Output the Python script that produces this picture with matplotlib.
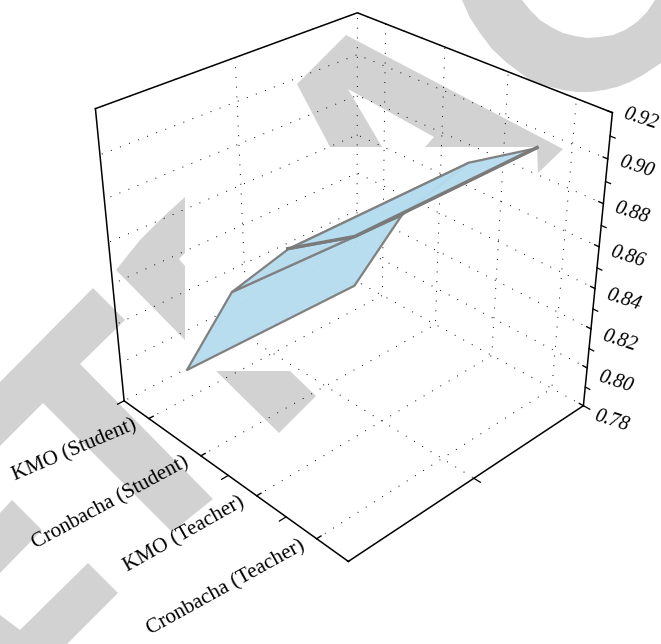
import numpy as np
import matplotlib
matplotlib.use('Agg')
import matplotlib.pyplot as plt
from matplotlib.patches import Polygon
from matplotlib.ticker import FixedLocator
from mpl_toolkits.mplot3d import proj3d

plt.rcParams['font.family'] = ['Liberation Serif', 'DejaVu Serif']

# the values
categories = ['KMO (Student)', 'Cronbacha (Student)', 'KMO (Teacher)', 'Cronbacha (Teacher)']
category_pos = [1, 2, 3, 4]
surface_x = [1, 4]
series_y_left = [0.153, 0.343, 0.576, 0.868]
series_y_right = [0.141, 0.308, 0.558, 0.841]
series_z_left = [0.795, 0.823, 0.831, 0.8205]
series_z_right = [0.8865, 0.906, 0.9145, 0.9065]
z_ticks = [0.78, 0.80, 0.82, 0.84, 0.86, 0.88, 0.90, 0.92]
z_minor = [0.79, 0.81, 0.83, 0.85, 0.87, 0.89, 0.91]
x_minor = [0.5, 2.5, 3.5, 4.5]
y_ticks = [0.0, 0.5, 1.0]
x_label_rot = [23, 28.5, 29.5, 29]

# retraction stamp behind the chart, in picture pixels
stamp_pieces = [
    [(346, 35), (563, 149), (538, 173), (537, 147), (425, 147), (434, 137),
     (348, 89), (382, 147), (330, 147), (297, 84)],
    [(185, 197), (163, 217), (140, 240), (116, 270), (185, 340), (185, 266),
     (179, 259), (185, 253)],
    [(93, 288), (125, 320), (80, 364), (213, 499), (172, 532), (43, 403),
     (0, 446), (0, 382)],
    [(12, 500), (42, 530), (0, 573), (0, 513)],
    [(88, 563), (118, 593), (67, 644), (0, 644), (0, 615), (20, 630)],
    [(216, 371), (290, 371), (316, 396), (279, 433)],
    [(462, 0), (470, 18), (480, 33), (492, 49), (507, 63), (530, 80), (547, 86), (563, 90),
     (577, 92), (590, 92), (604, 90), (617, 87), (630, 82), (643, 75), (661, 63), (661, 0),
     (655, 0), (647, 12), (637, 22), (625, 30), (613, 35), (600, 37), (587, 38),
     (575, 36), (563, 33), (551, 27), (540, 20), (530, 10), (522, 0)],
]

W, H = 661, 644
fig = plt.figure(figsize=(W / 100, H / 100), dpi=100)
for piece in stamp_pieces:
    pts = [(px / W, 1 - py / H) for px, py in piece]
    fig.add_artist(Polygon(pts, closed=True, transform=fig.transFigure,
                           facecolor='#d2d2d2', edgecolor='none', zorder=-1))

ax = fig.add_axes([56.84 / W, 1 - 561.96 / H, 577.16 / W, 577.16 / H], projection='3d')
ax.set_facecolor('none')
ax.computed_zorder = False
ax.view_init(elev=31.43, azim=-43.96)
ax.set_proj_type('persp', focal_length=0.4836)
ax.set_box_aspect((1, 1.0007, 0.9938))

xmin, xmax = 0.5, 4.5
ymin, ymax = 0.0, 1.0
zmin, zmax = 0.78, 0.92

X = np.array([[surface_x[0], surface_x[1]]] * 4, float)
Y = np.array([series_y_left, series_y_right]).T
Z = np.array([series_z_left, series_z_right]).T
# one strip at a time, the far strip lies on top in the original
for i in range(3):
    ax.plot_surface(X[i:i + 2], Y[i:i + 2], Z[i:i + 2], rstride=1, cstride=1,
                    color=(0.71, 0.863, 0.937, 0.96), edgecolor='#808080',
                    linewidth=1.6, shade=False, zorder=3 + i)
ax.plot([surface_x[0], surface_x[0], surface_x[1]],
        [series_y_left[2], series_y_left[3], series_y_right[3]],
        [series_z_left[2], series_z_left[3], series_z_right[3]],
        color='#7a7a7a', lw=2.4, zorder=7)

# outline of the box, mplot3d only draws the three axis lines
ax.plot([xmin, xmin, xmax], [ymin, ymax, ymax], [zmax, zmax, zmax], color='k', lw=1.1, zorder=8)
ax.plot([xmin, xmin], [ymin, ymin], [zmin, zmax], color='k', lw=1.1, zorder=8)
ax.plot([xmin, xmin], [ymax, ymax], [zmin, zmax], color='k', lw=0.7, ls=(0, (1, 9)), zorder=1)

# short ticks without a grid line
for v in x_minor:
    ax.plot([v, v], [ymin, ymin - 0.025], [zmin, zmin], color='k', lw=0.9, zorder=8)
for v in y_ticks:
    ax.plot([xmax, xmax + 0.1], [v, v], [zmin, zmin], color='k', lw=0.9, zorder=8)
for v in z_minor:
    ax.plot([xmax, xmax + 0.07], [ymax, ymax], [v, v], color='k', lw=0.9, zorder=8)

ax.set_xlim(xmin, xmax)
ax.set_ylim(ymin, ymax)
ax.set_zlim(zmin, zmax)
ax.set_xticks(category_pos)
ax.set_xticklabels([''] * 4)
ax.yaxis.set_major_locator(FixedLocator([0.5]))
ax.set_yticklabels([''])
ax.set_zticks(z_ticks)
ax.set_zticklabels([''] * len(z_ticks))

for axis in (ax.xaxis, ax.yaxis, ax.zaxis):
    axis.set_pane_color((1, 1, 1, 0))
    axis.pane.set_edgecolor('none')
    axis.line.set_color('k')
    axis.line.set_linewidth(1.1)
    axis._axinfo['grid'].update(color='k', linewidth=0.7, linestyle=(0, (1, 9)))
    axis._axinfo['tick'].update(inward_factor=0.0, outward_factor=0.2)
    axis._axinfo['tick']['linewidth'] = {True: 1.0, False: 1.0}
ax.yaxis._axinfo['tick'].update(outward_factor=0.0)

# tick labels by hand, mplot3d can't shift them sideways from the tick
M = ax.get_proj()
for name, pos, rot in zip(categories, category_pos, x_label_rot):
    tx, ty, _ = proj3d.proj_transform(pos, ymin, zmin, M)
    ax.annotate(name, xy=(tx, ty), xycoords='data', xytext=(-13, -6), textcoords='offset pixels',
                rotation=rot, ha='right', va='center', rotation_mode='anchor', fontsize=15.2,
                annotation_clip=False)
for v in z_ticks:
    tx, ty, _ = proj3d.proj_transform(xmax, ymax, v, M)
    frac = (zmax - v) / (zmax - zmin)
    ax.annotate('%.2f' % v, xy=(tx, ty), xycoords='data',
                xytext=(28.5, -7 - 8 * frac), textcoords='offset pixels',
                rotation=-18, ha='center', va='center', rotation_mode='anchor',
                fontsize=14.5, style='italic', annotation_clip=False)

fig.savefig('out.png', dpi=100)
